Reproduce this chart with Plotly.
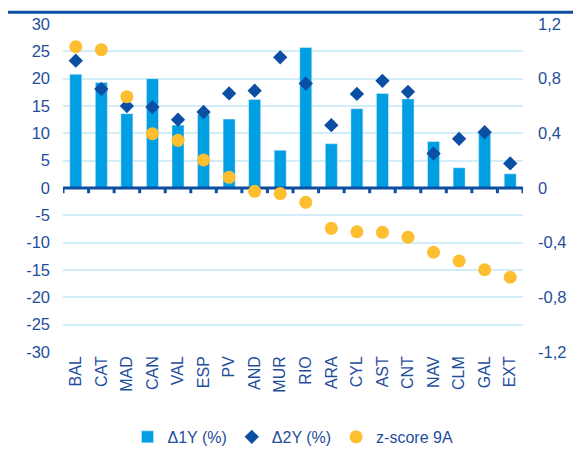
import plotly.graph_objects as go

categories = ["BAL", "CAT", "MAD", "CAN", "VAL", "ESP", "PV", "AND", "MUR", "RIO",
              "ARA", "CYL", "AST", "CNT", "NAV", "CLM", "GAL", "EXT"]
d1y = [20.8, 19.3, 13.6, 20.0, 11.5, 13.5, 12.6, 16.2, 6.9, 25.7,
       8.1, 14.5, 17.3, 16.3, 8.5, 3.7, 10.0, 2.6]
d2y = [23.3, 18.1, 15.0, 14.8, 12.5, 13.9, 17.3, 17.8, 23.9, 19.1,
       11.5, 17.2, 19.6, 17.6, 6.3, 9.0, 10.2, 4.5]
zscore = [1.034, 1.012, 0.668, 0.397, 0.349, 0.205, 0.078, -0.024, -0.041, -0.105,
          -0.295, -0.320, -0.324, -0.360, -0.470, -0.534, -0.598, -0.653]

left_ticks = [30, 25, 20, 15, 10, 5, 0, -5, -10, -15, -20, -25, -30]
left_text = ["30", "25", "20", "15", "10", "5", "0", "-5", "-10", "-15", "-20", "-25", "-30"]
right_ticks = [1.2, 0.8, 0.4, 0, -0.4, -0.8, -1.2]
right_text = ["1,2", "0,8", "0,4", "0", "-0,4", "-0,8", "-1,2"]

C_BAR = "#009FE3"
C_DIA = "#0B4EA2"
C_DOT = "#FDBE30"
C_TXT = "#1F4E9C"
C_GRID = "#D2EDF9"
FONT = "Liberation Sans, Arial, sans-serif"

n = len(categories)
xpos = list(range(n))

# category axis drawn at the zero level: line plus boundary tick marks
axis_x, axis_y = [-0.5, n - 0.5, None], [0, 0, None]
for i in range(n + 1):
    axis_x += [i - 0.5, i - 0.5, None]
    axis_y += [0, -0.95, None]

fig = go.Figure()
fig.add_trace(go.Bar(x=xpos, y=d1y, name="Δ1Y (%)", marker_color=C_BAR,
                     width=0.47))
fig.add_trace(go.Scatter(x=axis_x, y=axis_y, mode="lines",
                         line=dict(color=C_DIA, width=3),
                         showlegend=False, hoverinfo="skip"))
fig.add_trace(go.Scatter(x=xpos, y=d2y, name="Δ2Y (%)", mode="markers",
                         marker=dict(symbol="diamond", size=11, color=C_DIA)))
fig.add_trace(go.Scatter(x=xpos, y=zscore, name="z-score 9A", mode="markers",
                         yaxis="y2",
                         marker=dict(symbol="circle", size=13, color=C_DOT)))

fig.update_layout(
    width=573, height=453,
    margin=dict(l=55, r=58, t=16, b=109, autoexpand=False),
    paper_bgcolor="white", plot_bgcolor="white",
    font=dict(family=FONT, size=16, color=C_TXT),
    showlegend=True,
    legend=dict(orientation="h", x=0.5, xanchor="center", y=-0.259, yanchor="middle",
                font=dict(size=16, color=C_TXT), itemwidth=30,
                traceorder="normal"),
    xaxis=dict(range=[-0.5, n - 0.5], tickvals=xpos, ticktext=categories,
               tickangle=-90, showline=False, ticks="", zeroline=False,
               showgrid=False, automargin=False, tickfont=dict(size=16, color=C_TXT)),
    yaxis=dict(range=[-30, 30], tickvals=left_ticks, ticktext=left_text,
               showgrid=True, gridcolor=C_GRID, gridwidth=1.5,
               zeroline=False,
               showline=False, ticks="", ticklabelstandoff=12, automargin=False,
               tickfont=dict(size=16.5, color=C_TXT)),
    yaxis2=dict(range=[-1.2, 1.2], overlaying="y", side="right",
                tickvals=right_ticks, ticktext=right_text, showgrid=False,
                zeroline=False, showline=False, ticks="", ticklabelstandoff=14,
                automargin=False, tickfont=dict(size=16.5, color=C_TXT)),
    bargap=0.5,
    shapes=[dict(type="line", xref="paper", yref="paper", x0=-0.12, x1=1.13,
                 y0=1.036, y1=1.036, line=dict(color=C_DIA, width=3))],
)
fig.write_html("out.html")
